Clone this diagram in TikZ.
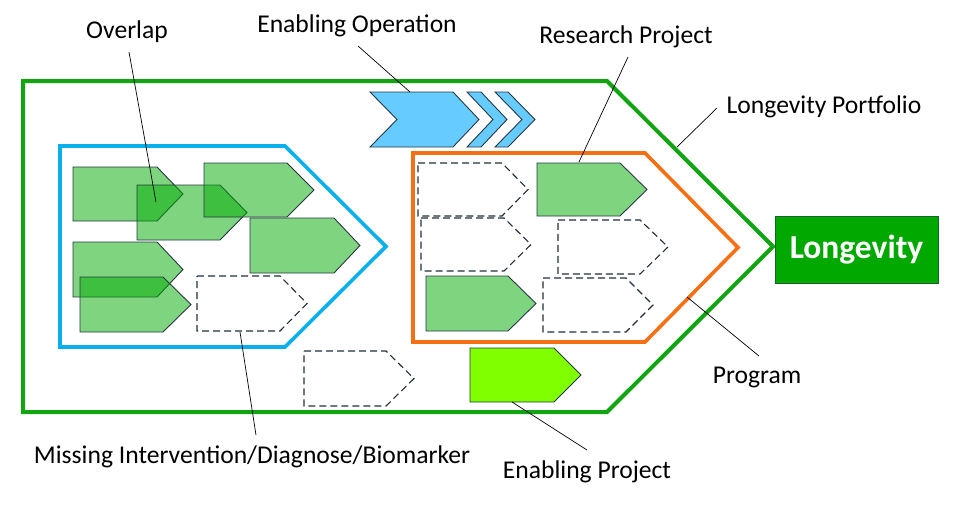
\documentclass[tikz,border=0pt]{standalone}
\usepackage{fontspec}
\setmainfont{Carlito}
\usetikzlibrary{calc}

% colours
\definecolor{portgreen}{RGB}{18,165,18}
\definecolor{progorange}{RGB}{245,112,20}
\definecolor{groupblue}{RGB}{10,176,235}
\definecolor{projfill}{RGB}{0,170,0}
\definecolor{edgedark}{RGB}{38,55,68}
\definecolor{opfill}{RGB}{102,204,255}
\definecolor{enfill}{RGB}{128,255,0}
\definecolor{boxgreen}{RGB}{0,168,0}

% a project tag: left, top, corner x, tip x, bottom
\newcommand\tagpath[5]{(#1,#2) -- (#3,#2) -- (#4,{(#2+#5)/2}) -- (#3,#5) -- (#1,#5) -- cycle}

\tikzset{
  frame/.style={line width=4pt, line join=miter},
  project/.style={draw=edgedark, line width=0.9pt, fill=projfill, fill opacity=0.5},
  missing/.style={draw=edgedark!85!black, line width=1.1pt, dash pattern=on 7pt off 4pt},
  enabling/.style={draw=edgedark, line width=0.9pt, fill=enfill},
  operation/.style={draw=edgedark, line width=0.9pt, fill=opfill},
  leader/.style={draw=black, line width=0.7pt},
  label/.style={font=\fontsize{25.6}{30}\selectfont, anchor=base, inner sep=0pt},
  longbox/.style={draw=edgedark!60!boxgreen, line width=0.8pt, fill=boxgreen, text=white,
    font=\fontsize{33.5}{40}\bfseries\selectfont, minimum width=163pt, minimum height=67pt, inner sep=0pt}
}

\begin{document}
\begin{tikzpicture}[x=1pt, y=-1pt]
\useasboundingbox (0,0) rectangle (967,509);

% portfolio, group and program outlines
\draw[frame, draw=portgreen] \tagpath{23}{81}{607}{773}{412};
\draw[frame, line width=3.6pt, draw=groupblue] \tagpath{60}{146}{285}{386}{347};
\draw[frame, line width=3.6pt, draw=progorange] \tagpath{413}{153}{645}{738}{342};

% enabling operation chevrons
\draw[operation] (370,92) -- (453,92) -- (479,119.5) -- (453,147) -- (370,147) -- (397,119.5) -- cycle;
\draw[operation] (467,92) -- (481,92) -- (507,119.5) -- (481,147) -- (467,147) -- (493,119.5) -- cycle;
\draw[operation] (495,92) -- (508,92) -- (535,119.5) -- (508,147) -- (495,147) -- (522,119.5) -- cycle;

% projects in the left group
\draw[project] \tagpath{73}{167}{157}{183}{221};
\draw[project] \tagpath{137}{185}{220}{247}{240};
\draw[project] \tagpath{204}{163}{287}{314}{217};
\draw[project] \tagpath{250}{218}{334}{360}{273};
\draw[project] \tagpath{73}{242}{157}{183}{297};
\draw[project] \tagpath{80}{277}{163}{191}{332};
\draw[missing] \tagpath{197}{276}{280}{307}{331};

% projects in the program
\draw[missing] \tagpath{418}{163}{502}{528}{216};
\draw[project] \tagpath{537}{163}{620}{647}{216};
\draw[missing] \tagpath{421}{218}{504}{531}{271};
\draw[missing] \tagpath{558}{220}{640}{668}{274};
\draw[project] \tagpath{426}{276}{508}{536}{331};
\draw[missing] \tagpath{543}{278}{626}{653}{332};

% loose projects in the portfolio
\draw[missing] \tagpath{304}{351}{386}{414}{406};
\draw[enabling] \tagpath{470}{348}{554}{581}{402};

% goal
\node[longbox] (longevity) at (856.5,249.5) {Longevity};

% labels
\node[label] (lOverlap) at (127,38) {Overlap};
\node[label] (lOperation) at (357,32) {Enabling Operation};
\node[label] (lResearch) at (626,43) {Research Project};
\node[label] (lPortfolio) at (824,113) {Longevity Portfolio};
\node[label] (lProgram) at (757,383) {Program};
\node[label] (lMissing) at (252,463) {Missing Intervention/Diagnose/Biomarker};
\node[label] (lEnabling) at (587,478) {Enabling Project};

% leader line ends
\coordinate (oA) at (129,52);   \coordinate (oB) at (156,202);
\coordinate (eA) at (358,46);   \coordinate (eB) at (410,92);
\coordinate (rA) at (628,57);   \coordinate (rB) at (579,162);
\coordinate (pA) at (717,108);  \coordinate (pB) at (677,147);
\coordinate (gA) at (759,356);  \coordinate (gB) at (687,297);
\coordinate (mA) at (256,435);  \coordinate (mB) at (240,332);
\coordinate (nA) at (587,450);  \coordinate (nB) at (512,402);

\draw[leader] (oA) -- (oB);
\draw[leader] (eA) -- (eB);
\draw[leader] (rA) -- (rB);
\draw[leader] (pA) -- (pB);
\draw[leader] (gA) -- (gB);
\draw[leader] (mA) -- (mB);
\draw[leader] (nA) -- (nB);
\end{tikzpicture}
\end{document}
